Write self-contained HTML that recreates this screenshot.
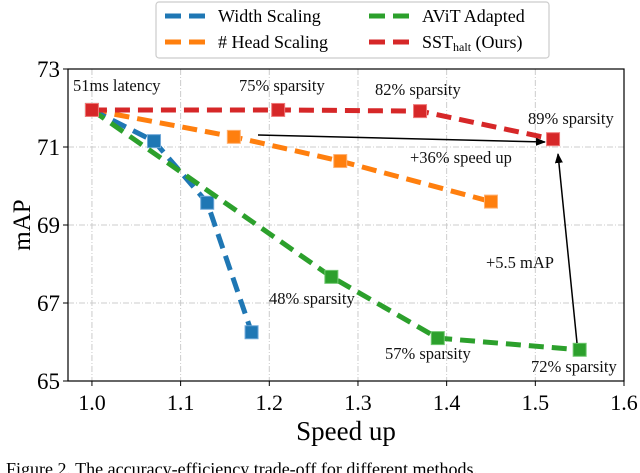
<!DOCTYPE html>
<html><head><meta charset="utf-8"><style>
body{margin:0;background:#fff;}
svg{display:block;font-family:"Liberation Serif",serif;}
</style></head><body>
<svg width="640" height="473" viewBox="0 0 640 473">
<g id="grid"></g>
<g id="series"></g>
<g id="axes"></g>
<g font-size="16.5" fill="#111">
<text x="73" y="91">51ms latency</text>
<text x="239" y="91">75% sparsity</text>
<text x="375" y="95">82% sparsity</text>
<text x="528" y="124">89% sparsity</text>
<text x="410" y="163">+36% speed up</text>
<text x="486" y="268">+5.5 mAP</text>
<text x="269" y="304">48% sparsity</text>
<text x="385" y="359">57% sparsity</text>
<text x="531" y="372">72% sparsity</text>
</g>
<defs><marker id="ah" markerWidth="10" markerHeight="8" refX="9" refY="4" orient="auto" markerUnits="userSpaceOnUse"><path d="M0,0 L10,4 L0,8 Z" fill="#000"/></marker></defs>
<line x1="258" y1="135" x2="545" y2="142" stroke="#000" stroke-width="1.5" marker-end="url(#ah)"/>
<line x1="577" y1="343" x2="558" y2="154" stroke="#000" stroke-width="1.5" marker-end="url(#ah)"/>
<g>
<rect x="156" y="2" width="393" height="56" rx="3" fill="#fff" stroke="#ccc" stroke-width="1.2"/>
<line x1="165" y1="16" x2="207" y2="16" stroke="#1f77b4" stroke-width="5" stroke-dasharray="16,8"/>
<text x="218" y="22" font-size="18">Width Scaling</text>
<line x1="165" y1="42" x2="207" y2="42" stroke="#ff7f0e" stroke-width="5" stroke-dasharray="16,8"/>
<text x="218" y="48" font-size="18"># Head Scaling</text>
<line x1="369" y1="16" x2="411" y2="16" stroke="#2ca02c" stroke-width="5" stroke-dasharray="16,8"/>
<text x="422" y="22" font-size="18">AViT Adapted</text>
<line x1="369" y1="42" x2="411" y2="42" stroke="#d62728" stroke-width="5" stroke-dasharray="16,8"/>
<text x="422" y="48" font-size="18">SST<tspan font-size="12" dy="3">halt</tspan><tspan dy="-3"> (Ours)</tspan></text>
</g>
<text x="0" y="0" font-size="25" text-anchor="middle" transform="translate(30,225) rotate(-90)">mAP</text>
<text x="346" y="440" font-size="27" text-anchor="middle">Speed up</text>
<text x="6" y="475" font-size="18">Figure 2. The accuracy-efficiency trade-off for different methods.</text>
</svg>
<script>
const xTicks=[1.0,1.1,1.2,1.3,1.4,1.5,1.6];
const yTicks=[65,67,69,71,73];
const widthX=[1.0,1.07,1.13,1.18];
const widthY=[71.95,71.15,69.57,66.25];
const headX=[1.0,1.16,1.28,1.45];
const headY=[71.95,71.26,70.64,69.6];
const avitX=[1.0,1.27,1.39,1.55];
const avitY=[71.95,67.67,66.1,65.8];
const sstX=[1.0,1.21,1.37,1.52];
const sstY=[71.95,71.95,71.92,71.2];
const X0=68,X1=624,Y0=381,Y1=69,xmin=0.973,xmax=1.6,ymin=65,ymax=73;
const sx=v=>X0+(v-xmin)/(xmax-xmin)*(X1-X0);
const sy=v=>Y0-(v-ymin)/(ymax-ymin)*(Y0-Y1);
const NS="http://www.w3.org/2000/svg";
function mk(tag,attrs,parent){const e=document.createElementNS(NS,tag);for(const k in attrs)e.setAttribute(k,attrs[k]);parent.appendChild(e);return e;}
const grid=document.getElementById('grid'),axes=document.getElementById('axes'),ser=document.getElementById('series');
xTicks.forEach(t=>{
 const g=mk('line',{x1:sx(t),x2:sx(t),y1:Y1,y2:Y0,stroke:'#ccc','stroke-width':1,'stroke-dasharray':'6,2,1,2'},grid);
 
 
 mk('line',{x1:sx(t),x2:sx(t),y1:Y0,y2:Y0+5,stroke:'#000','stroke-width':1},axes);
 const tx=mk('text',{x:sx(t),y:Y0+29,'font-size':22,'text-anchor':'middle'},axes);
 tx.textContent=t.toFixed(1);
 
 
});
yTicks.forEach(t=>{
 const g=mk('line',{x1:X0,x2:X1,y1:sy(t),y2:sy(t),stroke:'#ccc','stroke-width':1,'stroke-dasharray':'6,2,1,2'},grid);
 
 
 mk('line',{x1:X0-5,x2:X0,y1:sy(t),y2:sy(t),stroke:'#000','stroke-width':1},axes);
 const tx=mk('text',{x:X0-8,y:sy(t)+8,'font-size':23,'text-anchor':'end'},axes);
 tx.textContent=t;
 
 
});
const fr=mk('rect',{x:X0,y:Y1,width:X1-X0,height:Y0-Y1,fill:'none',stroke:'#000','stroke-width':1.2},axes);


function series(xs,ys,col,edge,name){
 const pts=xs.map((x,i)=>sx(x)+','+sy(ys[i])).join(' ');
 const pl=mk('polyline',{points:pts,fill:'none',stroke:col,'stroke-width':5,'stroke-dasharray':'15,8'},ser);
 
 
 xs.forEach((x,i)=>{
  const r=mk('rect',{x:sx(x)-6.5,y:sy(ys[i])-6.5,width:13,height:13,fill:col,stroke:edge,'stroke-width':1},ser);
  
  
 });
}
series(headX,headY,'#ff7f0e','#ffb070','head-scaling');
series(widthX,widthY,'#1f77b4','#6fa8d8','width-scaling');
series(avitX,avitY,'#2ca02c','#6fc86f','avit-adapted');
series(sstX,sstY,'#d62728','#f07878','sst-halt');
</script>
</body></html>
